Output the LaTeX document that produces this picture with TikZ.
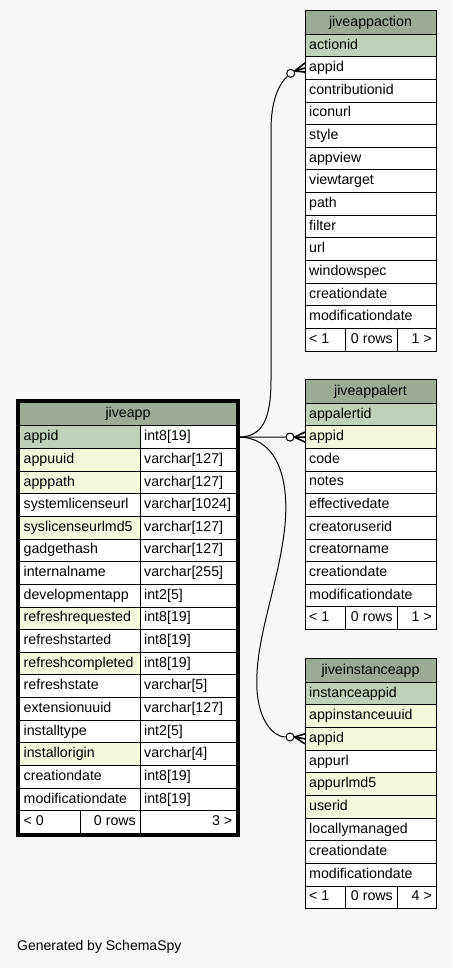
\documentclass[tikz,border=0pt]{standalone}
\usepackage{fontspec}
\setmainfont{Liberation Sans}
\definecolor{bg}{HTML}{F7F7F7}
\definecolor{hdr}{HTML}{9BAB96}
\definecolor{pk}{HTML}{BFD1B8}
\definecolor{idx}{HTML}{F4F7DC}
\newcommand\tf{\fontsize{14.2}{17}\selectfont}
\tikzset{
  cellbox/.style={draw=black, line width=1pt, inner sep=0pt, outer sep=0pt, anchor=north west, minimum height=22.65pt},
  celltxt/.style={anchor=base west, inner sep=0pt, font=\tf},
  conn/.style={draw=black, line width=1pt},
  crowline/.style={draw=black, line width=1.6pt},
  opt/.style={circle, draw=black, fill=white, line width=1pt, minimum size=8pt, inner sep=0pt},
}
\newcommand\sTable[7]{%
  \node[cellbox, fill=hdr, minimum width=131pt, minimum height=23.5pt] (#1h) at (#2,#3) {};
  \node[font=\tf, anchor=base, inner sep=0pt] (#1ht) at ([yshift=-3.8pt]#1h.center) {#4};
  \foreach \n/\c [count=\i] in {#5} {
    \node[cellbox, fill=\c, minimum width=131pt] (#1r\i) at ({#2},{#3+23.5+(\i-1)*22.65}) {};
    \node[celltxt] (#1t\i) at ([xshift=4pt,yshift=-3.6pt]#1r\i.west) {\n};
  }
  \pgfmathsetmacro\fy{#3+23.5+#6*22.65}
  \node[cellbox, fill=white, minimum width=40pt] (#1fa) at (#2,\fy) {};
  \node[cellbox, fill=white, minimum width=52pt] (#1fb) at ({#2+40},\fy) {};
  \node[cellbox, fill=white, minimum width=39pt] (#1fc) at ({#2+92},\fy) {};
  \node[celltxt] (#1fat) at ([xshift=4pt,yshift=-3.6pt]#1fa.west) {< 1};
  \node[celltxt, anchor=base east] (#1fbt) at ([xshift=-4pt,yshift=-3.6pt]#1fb.east) {0 rows};
  \node[celltxt, anchor=base east] (#1fct) at ([xshift=-4pt,yshift=-3.6pt]#1fc.east) {#7};
}
\begin{document}
\begin{tikzpicture}[x=1pt,y=-1pt]
\fill[bg] (0,0) rectangle (452,968);
\useasboundingbox (0,0) rectangle (452,968);

% ---- jiveapp ----
\node[cellbox, fill=hdr, minimum width=217pt, minimum height=23.3pt] (jah) at (19.5,402.5) {};
\node[font=\tf, anchor=base, inner sep=0pt] (jaht) at ([yshift=-3.8pt]jah.center) {jiveapp};
\foreach \n/\c/\t [count=\i] in {
  appid/pk/int8[19], appuuid/idx/varchar[127], apppath/idx/varchar[127],
  systemlicenseurl/white/varchar[1024], syslicenseurlmd5/idx/varchar[127],
  gadgethash/white/varchar[127], internalname/white/varchar[255],
  developmentapp/white/int2[5], refreshrequested/idx/int8[19],
  refreshstarted/white/int8[19], refreshcompleted/idx/int8[19],
  refreshstate/white/varchar[5], extensionuuid/white/varchar[127],
  installtype/white/int2[5], installorigin/idx/varchar[4],
  creationdate/white/int8[19], modificationdate/white/int8[19]} {
  \node[cellbox, fill=\c, minimum width=120.5pt] (jan\i) at (19.5,{425.8+(\i-1)*22.65}) {};
  \node[cellbox, fill=white, minimum width=96.5pt] (jat\i) at (140,{425.8+(\i-1)*22.65}) {};
  \node[celltxt] (jant\i) at ([xshift=4pt,yshift=-3.6pt]jan\i.west) {\n};
  \node[celltxt] (jatt\i) at ([xshift=4pt,yshift=-3.6pt]jat\i.west) {\t};
}
\node[cellbox, fill=white, minimum width=60.5pt] (jafa) at (19.5,810.85) {};
\node[cellbox, fill=white, minimum width=60pt] (jafb) at (80,810.85) {};
\node[cellbox, fill=white, minimum width=96.5pt] (jafc) at (140,810.85) {};
\node[celltxt] (jafat) at ([xshift=4pt,yshift=-3.6pt]jafa.west) {< 0};
\node[celltxt, anchor=base east] (jafbt) at ([xshift=-4pt,yshift=-3.6pt]jafb.east) {0 rows};
\node[celltxt, anchor=base east] (jafct) at ([xshift=-4pt,yshift=-3.6pt]jafc.east) {3 >};
\draw[line width=3pt] ([xshift=-2pt,yshift=2pt]jah.north west) rectangle ([xshift=2pt,yshift=-2pt]jafc.south east);

% ---- right tables ----
\sTable{ac}{305}{10.6}{jiveappaction}{actionid/pk, appid/white, contributionid/white, iconurl/white, style/white, appview/white, viewtarget/white, path/white, filter/white, url/white, windowspec/white, creationdate/white, modificationdate/white}{13}{1 >}
\sTable{al}{305}{379.6}{jiveappalert}{appalertid/pk, appid/idx, code/white, notes/white, effectivedate/white, creatoruserid/white, creatorname/white, creationdate/white, modificationdate/white}{9}{1 >}
\sTable{in}{305}{658.7}{jiveinstanceapp}{instanceappid/pk, appinstanceuuid/idx, appid/idx, appurl/white, appurlmd5/idx, userid/idx, locallymanaged/white, creationdate/white, modificationdate/white}{9}{4 >}

% ---- connectors ----
\node[opt] (o1) at (290.7,73.3) {};
\node[opt] (o2) at (290,437.1) {};
\node[opt] (o3) at (290,737) {};

\draw[conn] ([xshift=2pt]jat1.east) .. controls (262,437) and (271,420) .. (271,380) -- (271,130) .. controls (271,100) and (279,84) .. (o1);
\draw[conn] ([xshift=2pt]jat1.east) -- (o2);
\draw[conn] ([xshift=2pt]jat1.east) .. controls (272,437) and (290,470) .. (285,525) .. controls (279,585) and (254,640) .. (257,690) .. controls (259,722) and (274,737) .. (o3);

\draw[crowline] (o1.30) -- ([yshift=5pt]acr2.west);
\draw[crowline] (o1.30) -- (acr2.west);
\draw[crowline] (o1.30) -- ([yshift=-4pt]acr2.west);

\draw[crowline] (o2.east) -- ([yshift=5pt]alr2.west);
\draw[crowline] (o2.east) -- (alr2.west);
\draw[crowline] (o2.east) -- ([yshift=-5pt]alr2.west);

\draw[crowline] (o3.east) -- ([yshift=5pt]inr3.west);
\draw[crowline] (o3.east) -- (inr3.west);
\draw[crowline] (o3.east) -- ([yshift=-5pt]inr3.west);

\node[font=\fontsize{14}{17}\selectfont, anchor=base west, inner sep=0pt] (gen) at (17,950.5) {Generated by SchemaSpy};
\end{tikzpicture}
\end{document}
